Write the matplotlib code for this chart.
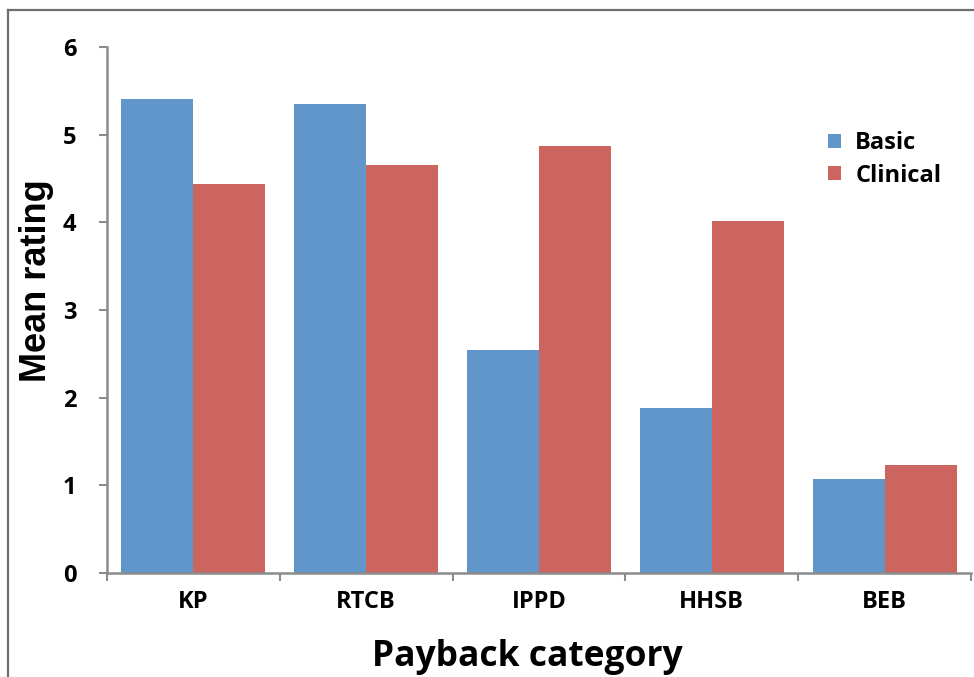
import numpy as np
import matplotlib
matplotlib.use("Agg")
import matplotlib.pyplot as plt
from matplotlib.lines import Line2D

# mean ratings per payback category
categories = ["KP", "RTCB", "IPPD", "HHSB", "BEB"]
basic = [5.41, 5.35, 2.54, 1.88, 1.07]
clinical = [4.44, 4.65, 4.87, 4.01, 1.23]

blue = "#6096c9"
red = "#cc655f"
axis_grey = "#8c8c8c"

plt.rcParams['font.family'] = ['Open Sans', 'DejaVu Sans']

fig = plt.figure(figsize=(9.74, 6.77), dpi=100)
ax = fig.add_axes([107/974, 1 - 573/677, (971 - 107)/974, (573 - 47)/677])

x = np.arange(len(categories))
w = 0.417
ax.bar(x - w/2, basic, w, color=blue, label="Basic")
ax.bar(x + w/2, clinical, w, color=red, label="Clinical")

ax.set_xlim(-0.5, len(categories) - 0.5)
ax.set_ylim(0, 6)
ax.set_yticks(range(7))
ax.set_yticklabels([str(i) for i in range(7)], fontsize=17, fontweight='bold')

# category labels centred, tick marks on the boundaries
ax.set_xticks(x)
ax.set_xticklabels(categories, fontsize=17, fontweight='bold')
ax.tick_params(axis='x', length=0, pad=12)
ax.set_xticks(np.arange(len(categories) + 1) - 0.5, minor=True)
ax.tick_params(axis='x', which='minor', length=6, color=axis_grey, width=1.5, direction='out')
ax.tick_params(axis='y', length=6, color=axis_grey, width=1.5, pad=16)

for s in ['top', 'right']:
    ax.spines[s].set_visible(False)
for s in ['left', 'bottom']:
    ax.spines[s].set_color(axis_grey)
    ax.spines[s].set_linewidth(1.8)

fig.text(37/974, 1 - 281/677, "Mean rating", rotation=90, ha='center', va='center',
         fontsize=26, fontweight='bold', family='Liberation Sans')
fig.text(527/974, 1 - 657/677, "Payback category", ha='center', va='center',
         fontsize=25.5, fontweight='bold')

leg = ax.legend(loc='upper left', bbox_to_anchor=(0.81, 0.88), frameon=False,
                fontsize=17, handlelength=0.55, handleheight=0.55, handletextpad=0.6,
                labelspacing=0.35)
for t in leg.get_texts():
    t.set_fontweight('bold')

# outer frame around the chart area
fig.add_artist(Line2D([8/974, 8/974], [0, 1 - 10/677], color="#6e6e6e", lw=1.6))
fig.add_artist(Line2D([8/974, 1], [1 - 10/677, 1 - 10/677], color="#6e6e6e", lw=1.6))

fig.savefig("out.png", dpi=100)
